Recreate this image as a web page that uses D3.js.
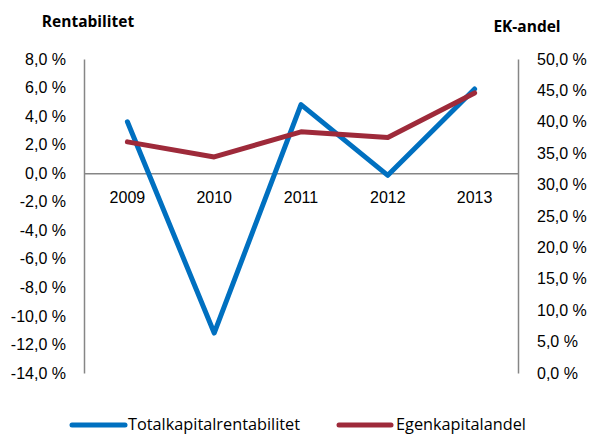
<!DOCTYPE html>
<html>
<head>
<meta charset="utf-8">
<script src="https://cdn.jsdelivr.net/npm/d3@7"></script>
<style>
  html, body { margin: 0; padding: 0; background: #fff; }
  svg { display: block; font-family: "Open Sans", "Noto Sans", sans-serif; }
</style>
</head>
<body>
<svg id="chart" width="591" height="435"></svg>
<script>
// Years on the category axis
const years = ["2009", "2010", "2011", "2012", "2013"];
// Totalkapitalrentabilitet (%), left axis
const totalkapitalrentabilitet = [3.6, -11.2, 4.8, -0.15, 5.9];
// Egenkapitalandel (%), right axis
const egenkapitalandel = [36.8, 34.4, 38.4, 37.5, 44.6];
// Tick values for both value axes
const leftTicks = [8, 6, 4, 2, 0, -2, -4, -6, -8, -10, -12, -14];
const rightTicks = [50, 45, 40, 35, 30, 25, 20, 15, 10, 5, 0];

const svg = d3.select("#chart");
const plot = { left: 84, right: 518, top: 59, bottom: 373 };
const axisColor = "#868686";
const blue = "#0070C0";
const red = "#9E2A3A";
const fontSize = 16;

const x = d3.scaleBand().domain(years).range([plot.left, plot.right]);
const yLeft = d3.scaleLinear().domain([-14, 8]).range([plot.bottom, plot.top]);
const yRight = d3.scaleLinear().domain([0, 50]).range([plot.bottom, plot.top]);

const fmt = v => d3.format(".1f")(v).replace(".", ",").replace("\u2212", "-") + " %";

// Left value axis
const gL = svg.append("g").attr("transform", `translate(${plot.left},0)`)
  .call(d3.axisLeft(yLeft).tickValues(leftTicks).tickFormat(fmt).tickSize(0).tickPadding(18));
gL.select(".domain").attr("stroke", axisColor).attr("stroke-width", 1.5);
gL.selectAll("text").attr("font-size", fontSize).attr("fill", "#000");

// Right value axis
const gR = svg.append("g").attr("transform", `translate(${plot.right},0)`)
  .call(d3.axisRight(yRight).tickValues(rightTicks).tickFormat(fmt).tickSize(0).tickPadding(19));
gR.select(".domain").attr("stroke", axisColor).attr("stroke-width", 1.5);
gR.selectAll("text").attr("font-size", fontSize).attr("fill", "#000");

// Category axis along the zero line
const gX = svg.append("g").attr("transform", `translate(0,${yLeft(0)})`)
  .call(d3.axisBottom(x).tickSize(0).tickPadding(18));
gX.select(".domain").attr("stroke", axisColor).attr("stroke-width", 1.5);
gX.selectAll("text").attr("font-size", fontSize).attr("fill", "#000");

// Axis titles
svg.append("text").attr("x", 88).attr("y", 27).attr("text-anchor", "middle")
  .attr("font-size", 15.5).attr("font-weight", "bold").text("Rentabilitet");
svg.append("text").attr("x", 527).attr("y", 32).attr("text-anchor", "middle")
  .attr("font-size", 15.5).attr("font-weight", "bold").text("EK-andel");

// Series lines
const cx = d => x(d) + x.bandwidth() / 2;
const lineL = d3.line().x((d, i) => cx(years[i])).y(d => yLeft(d));
const lineR = d3.line().x((d, i) => cx(years[i])).y(d => yRight(d));

svg.append("path").datum(totalkapitalrentabilitet).attr("d", lineL)
  .attr("fill", "none").attr("stroke", blue).attr("stroke-width", 5)
  .attr("stroke-linejoin", "round").attr("stroke-linecap", "round");
svg.append("path").datum(egenkapitalandel).attr("d", lineR)
  .attr("fill", "none").attr("stroke", red).attr("stroke-width", 5)
  .attr("stroke-linejoin", "round").attr("stroke-linecap", "round");

// Legend
const legend = [
  { name: "Totalkapitalrentabilitet", color: blue, x0: 72, x1: 125, tx: 128 },
  { name: "Egenkapitalandel", color: red, x0: 339, x1: 391, tx: 396 }
];
const lg = svg.append("g");
legend.forEach(d => {
  lg.append("line").attr("x1", d.x0).attr("x2", d.x1).attr("y1", 425).attr("y2", 425)
    .attr("stroke", d.color).attr("stroke-width", 5).attr("stroke-linecap", "round");
  lg.append("text").attr("x", d.tx).attr("y", 430).attr("font-size", 16.3).text(d.name);
});
</script>
</body>
</html>
